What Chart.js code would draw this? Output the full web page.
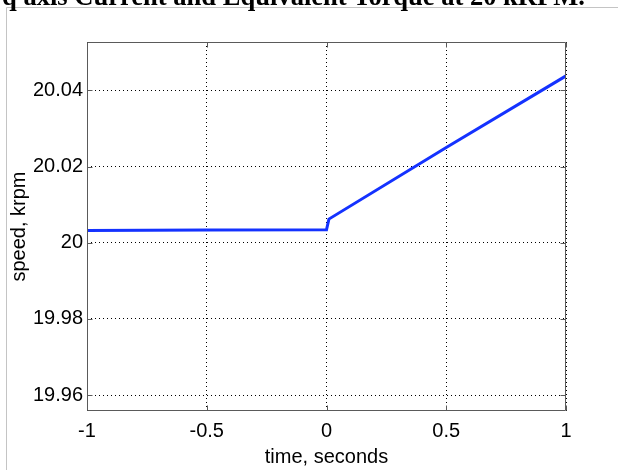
<!DOCTYPE html>
<html>
<head>
<meta charset="utf-8">
<script src="https://cdn.jsdelivr.net/npm/chart.js@4/dist/chart.umd.min.js"></script>
<style>
  html, body { margin: 0; padding: 0; background: #fff; }
  #wrap { position: relative; width: 618px; height: 470px; }
</style>
</head>
<body>
<div id="wrap"><canvas id="speedChart" width="618" height="470"></canvas></div>
<script>
// ---- data ----
const timeSec = [-1, -0.5, 0, 0.01, 0.5, 1];
const speedKrpm = [20.0032, 20.0033, 20.0034, 20.0062, 20.0250, 20.0438];
const xTicks = [-1, -0.5, 0, 0.5, 1];
const yTicks = [19.96, 19.98, 20, 20.02, 20.04];
const captionText = "q axis Current and Equivalent Torque at 20 kRPM.";

const FONT = "'Liberation Sans', Arial, sans-serif";

// page caption (cut off at top) + grey frame + axes box with inner ticks
const decorPlugin = {
  id: "decor",
  beforeDraw(chart) {
    const ctx = chart.ctx;
    ctx.save();
    ctx.fillStyle = "#fff";
    ctx.fillRect(0, 0, chart.width, chart.height);
    // grey frame
    ctx.strokeStyle = "#c4c4c4";
    ctx.lineWidth = 1;
    ctx.beginPath();
    ctx.moveTo(chart.width, 7.5);
    ctx.lineTo(6.5, 7.5);
    ctx.lineTo(6.5, chart.height);
    ctx.stroke();
    // caption
    ctx.font = "bold 24px 'Liberation Serif', serif";
    const w = ctx.measureText(captionText).width;
    const size = 24 * 583 / w;
    ctx.font = `bold ${size}px 'Liberation Serif', serif`;
    ctx.fillStyle = "#000";
    ctx.textBaseline = "alphabetic";
    ctx.fillText(captionText, 2, 5);
    ctx.restore();
  },
  afterDatasetsDraw(chart) {
    const { ctx, chartArea: a, scales } = chart;
    ctx.save();
    ctx.strokeStyle = "#5a5a5a";
    ctx.lineWidth = 1;
    const L = Math.round(a.left) + 0.5, R = Math.round(a.right) - 0.5;
    const T = Math.round(a.top) + 0.5, B = Math.round(a.bottom) - 0.5;
    ctx.beginPath();
    ctx.rect(L, T, R - L, B - T);
    const len = 5;
    xTicks.forEach(v => {
      const x = Math.round(scales.x.getPixelForValue(v)) + 0.5;
      ctx.moveTo(x, B); ctx.lineTo(x, B - len);
      ctx.moveTo(x, T); ctx.lineTo(x, T + len);
    });
    yTicks.forEach(v => {
      const y = Math.round(scales.y.getPixelForValue(v)) + 0.5;
      ctx.moveTo(L, y); ctx.lineTo(L + len, y);
      ctx.moveTo(R, y); ctx.lineTo(R - len, y);
    });
    ctx.stroke();
    ctx.restore();
  }
};

new Chart(document.getElementById("speedChart").getContext("2d"), {
  type: "scatter",
  data: {
    datasets: [{
      data: timeSec.map((t, i) => ({ x: t, y: speedKrpm[i] })),
      showLine: true,
      borderColor: "rgb(20, 50, 255)",
      borderWidth: 3,
      pointRadius: 0,
      tension: 0,
      fill: false
    }]
  },
  options: {
    responsive: false,
    animation: false,
    devicePixelRatio: 1,
    layout: { padding: { left: 0, right: 52, top: 42, bottom: 0 } },
    plugins: { legend: { display: false }, tooltip: { enabled: false } },
    scales: {
      x: {
        type: "linear",
        min: -1,
        max: 1,
        afterBuildTicks: s => { s.ticks = xTicks.map(v => ({ value: v })); },
        afterFit: s => { s.height = 59; },
        grid: { color: "#000", lineWidth: 1, drawTicks: false },
        border: { display: false, dash: [1, 3] },
        ticks: {
          color: "#000",
          padding: 8,
          maxRotation: 0,
          font: { family: FONT, size: 20 },
          callback: v => String(v)
        },
        title: {
          display: true,
          text: "time, seconds",
          color: "#000",
          padding: { top: 0, bottom: 1 },
          font: { family: FONT, size: 20 }
        }
      },
      y: {
        type: "linear",
        min: 19.9558,
        max: 20.0527,
        afterBuildTicks: s => { s.ticks = yTicks.map(v => ({ value: v })); },
        afterFit: s => { s.width = 87; },
        grid: { color: "#000", lineWidth: 1, drawTicks: false },
        border: { display: false, dash: [1, 3] },
        ticks: {
          color: "#000",
          padding: 4,
          font: { family: FONT, size: 20 },
          callback: v => String(Math.round(v * 100) / 100)
        },
        title: {
          display: true,
          text: "speed, krpm",
          color: "#000",
          padding: { top: 7, bottom: 0 },
          font: { family: FONT, size: 20 }
        }
      }
    }
  },
  plugins: [decorPlugin]
});
</script>
</body>
</html>
